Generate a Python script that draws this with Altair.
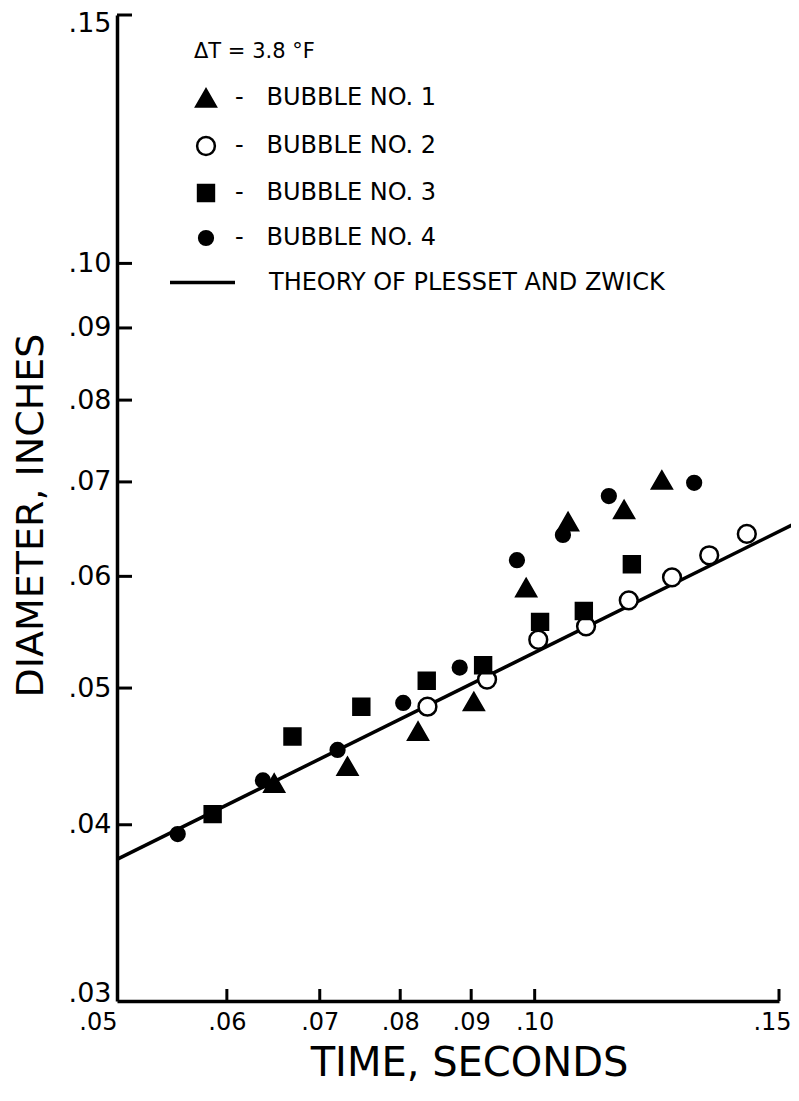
import altair as alt
import pandas as pd

# ---- data (time in seconds, diameter in inches) ----
series_names = ["BUBBLE NO. 1", "BUBBLE NO. 2", "BUBBLE NO. 3", "BUBBLE NO. 4"]
theory_name = "THEORY OF PLESSET AND ZWICK"

b1_t = [0.0649, 0.0733, 0.0824, 0.0904, 0.0986, 0.1057, 0.1160, 0.1235]
b1_d = [0.0428, 0.0440, 0.0466, 0.0489, 0.0589, 0.0656, 0.0669, 0.0702]
b2_t = [0.0837, 0.0924, 0.1006, 0.1089, 0.1169, 0.1256, 0.1336, 0.1422]
b2_d = [0.0485, 0.0507, 0.0541, 0.0553, 0.0577, 0.0599, 0.0621, 0.0643]
b3_t = [0.0586, 0.0669, 0.0750, 0.0836, 0.0918, 0.1009, 0.1085, 0.1175]
b3_d = [0.0407, 0.0462, 0.0485, 0.0506, 0.0519, 0.0557, 0.0567, 0.0612]
b4_t = [0.0553, 0.0637, 0.0721, 0.0804, 0.0883, 0.0971, 0.1048, 0.1131, 0.1303]
b4_d = [0.0394, 0.0430, 0.0452, 0.0488, 0.0517, 0.0616, 0.0642, 0.0684, 0.0699]

theory_t = [0.05, 0.155]
theory_d = [0.0378, 0.0656]

x_label_vals = [0.05, 0.06, 0.07, 0.08, 0.09, 0.10, 0.15]
y_label_vals = [0.03, 0.04, 0.05, 0.06, 0.07, 0.08, 0.09, 0.10, 0.15]
x_tick_vals = [0.06, 0.07, 0.08, 0.09, 0.10, 0.15]
y_tick_vals = [0.04, 0.05, 0.06, 0.07, 0.08, 0.09, 0.10, 0.15]

# ---- tables ----
rows = []
for name, ts, ds in zip(series_names, [b1_t, b2_t, b3_t, b4_t], [b1_d, b2_d, b3_d, b4_d]):
    for t, d in zip(ts, ds):
        rows.append({"t": t, "d": d, "series": name})
pts = pd.DataFrame(rows)
theory = pd.DataFrame({"t": theory_t, "d": theory_d, "model": [theory_name] * len(theory_t)})
xt = pd.DataFrame({"t": x_tick_vals})
yt = pd.DataFrame({"d": y_tick_vals})

W, H = 662, 986
FONT = "DejaVu Sans"

xscale = alt.Scale(type="log", domain=[0.05, 0.15], nice=False)
yscale = alt.Scale(type="log", domain=[0.03, 0.15], nice=False)

xaxis = alt.Axis(
    values=x_label_vals,
    labelExpr="substring(format(datum.value, '.2f'), 1)",
    title="TIME, SECONDS",
    ticks=False, grid=False,
    domainWidth=3.5, domainColor="black",
    labelFontSize=24, labelColor="black", labelPadding=9, labelFlush=False,
    labelAlign={"condition": {"test": "datum.value <= 0.0501", "value": "right"}, "value": "center"},
    labelOffset={"condition": {"test": "datum.value >= 0.149", "value": -7}, "value": 0},
    titleFontSize=40, titleFontWeight="normal", titleColor="black",
    titleX=352, titleY=74, titleAlign="center", titleBaseline="alphabetic",
)
yaxis = alt.Axis(
    values=y_label_vals,
    labelExpr="substring(format(datum.value, '.2f'), 1)",
    title="DIAMETER, INCHES",
    ticks=False, grid=False,
    domainWidth=3.5, domainColor="black",
    labelFontSize=27, labelColor="black", labelPadding=6,
    labelBaseline={"condition": {"test": "datum.value <= 0.0301", "value": "alphabetic"}, "value": "middle"},
    labelOffset={"condition": {"test": "datum.value >= 0.149", "value": 8}, "value": 0},
    titleFontSize=38, titleFontWeight="normal", titleColor="black",
    titleX=-86, titleY=500, titleAngle=270, titleAlign="center", titleBaseline="middle",
)

X = alt.X("t:Q", scale=xscale, axis=xaxis)
Y = alt.Y("d:Q", scale=yscale, axis=yaxis)

line = alt.Chart(theory).mark_line(strokeWidth=3.5).encode(
    x=X, y=Y,
    color=alt.Color(
        "model:N",
        scale=alt.Scale(domain=[theory_name], range=["black"]),
        legend=alt.Legend(
            title=None, orient="none", legendX=51, legendY=233, padding=0,
            symbolType="stroke", symbolSize=4225, symbolStrokeWidth=3.5,
            labelFontSize=24, labelColor="black", labelOffset=32, labelLimit=0,
        ),
    ),
)

leg1 = alt.Legend(
    title="ΔT = 3.8 °F", orient="none", legendX=77, legendY=26, padding=0,
    titleFontSize=21, titleFontWeight="normal", titleColor="black", titlePadding=24,
    labelFontSize=24, labelColor="black", labelOffset=17, rowPadding=20, labelLimit=0,
    symbolStrokeWidth=2.5, symbolOpacity=1,
    labelExpr="'-\u00a0\u00a0\u00a0' + datum.label",
)
points = alt.Chart(pts).mark_point(filled=True, opacity=1, strokeWidth=2.5).encode(
    x=X, y=Y,
    shape=alt.Shape("series:N", scale=alt.Scale(domain=series_names,
                                                range=["triangle-up", "circle", "square", "circle"]), legend=leg1),
    fill=alt.Fill("series:N", scale=alt.Scale(domain=series_names,
                                              range=["black", "white", "black", "black"]), legend=leg1),
    stroke=alt.Stroke("series:N", scale=alt.Scale(domain=series_names,
                                                  range=["black", "black", "black", "black"]), legend=leg1),
    size=alt.Size("series:N", scale=alt.Scale(domain=series_names,
                                              range=[380, 189, 289, 189]), legend=leg1),
)

xticks = alt.Chart(xt).mark_rule(strokeWidth=3, color="black").encode(
    x=X, y=alt.value(H), y2=alt.value(H - 12)
)
yticks = alt.Chart(yt).mark_rule(strokeWidth=3, color="black").encode(
    y=Y, x=alt.value(0), x2=alt.value(15)
)

chart = alt.layer(line, xticks, yticks, points).properties(
    width=W, height=H,
    autosize=alt.AutoSizeParams(type="none"),
    padding={"left": 109, "top": 7, "right": 12, "bottom": 86},
    background="white",
).configure(font=FONT).configure_view(stroke=None)

chart.save("out.html", embed_options={"renderer": "svg", "actions": False})
